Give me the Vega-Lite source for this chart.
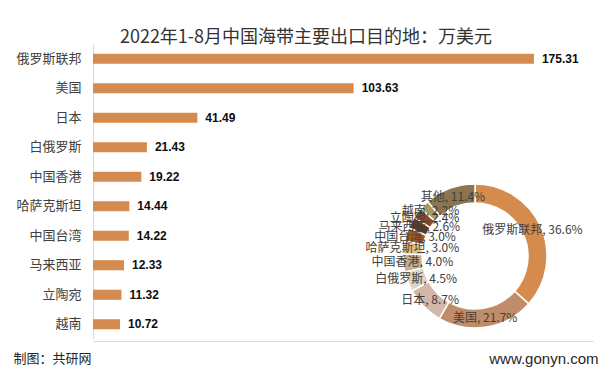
{
  "$schema": "https://vega.github.io/schema/vega-lite/v6.json",
  "width": 500,
  "height": 295,
  "autosize": {"type": "none"},
  "padding": {"left": 93, "top": 44, "right": 20, "bottom": 34},
  "background": "white",
  "config": {"view": {"stroke": null}, "font": "Noto Sans CJK SC"},
  "title": {
    "text": "2022年1-8月中国海带主要出口目的地：万美元",
    "fontSize": 18,
    "fontWeight": "normal",
    "color": "#333333",
    "anchor": "middle",
    "frame": "group",
    "dx": -37,
    "offset": -3,
    "font": "Noto Sans CJK SC"
  },
  "datasets": {
    "bars": [
      {"name": "俄罗斯联邦", "value": 175.31},
      {"name": "美国", "value": 103.63},
      {"name": "日本", "value": 41.49},
      {"name": "白俄罗斯", "value": 21.43},
      {"name": "中国香港", "value": 19.22},
      {"name": "哈萨克斯坦", "value": 14.44},
      {"name": "中国台湾", "value": 14.22},
      {"name": "马来西亚", "value": 12.33},
      {"name": "立陶宛", "value": 11.32},
      {"name": "越南", "value": 10.72}
    ],
    "pie": [
      {"rank": 1, "name": "俄罗斯联邦", "pct": 36.6, "label": "俄罗斯联邦, 36.6%"},
      {"rank": 2, "name": "美国", "pct": 21.7, "label": "美国, 21.7%"},
      {"rank": 3, "name": "日本", "pct": 8.7, "label": "日本, 8.7%"},
      {"rank": 4, "name": "白俄罗斯", "pct": 4.5, "label": "白俄罗斯, 4.5%"},
      {"rank": 5, "name": "中国香港", "pct": 4.0, "label": "中国香港, 4.0%"},
      {"rank": 6, "name": "哈萨克斯坦", "pct": 3.0, "label": "哈萨克斯坦, 3.0%"},
      {"rank": 7, "name": "中国台湾", "pct": 3.0, "label": "中国台湾, 3.0%"},
      {"rank": 8, "name": "马来西亚", "pct": 2.6, "label": "马来西亚, 2.6%"},
      {"rank": 9, "name": "立陶宛", "pct": 2.4, "label": "立陶宛, 2.4%"},
      {"rank": 10, "name": "越南", "pct": 2.2, "label": "越南, 2.2%"},
      {"rank": 11, "name": "其他", "pct": 11.4, "label": "其他, 11.4%"}
    ]
  },
  "layer": [
    {
      "data": {"name": "bars"},
      "mark": {"type": "bar", "color": "#D48B4D"},
      "encoding": {
        "y": {
          "field": "name", "type": "nominal", "sort": null,
          "scale": {"paddingInner": 0.66, "paddingOuter": 0.33},
          "axis": {
            "title": null, "ticks": false, "grid": false,
            "labelPadding": 12, "labelFontSize": 13, "labelColor": "#404040",
            "labelFont": "Noto Sans CJK SC",
            "domainColor": "#D9D9D9", "domainWidth": 1
          }
        },
        "x": {
          "field": "value", "type": "quantitative",
          "scale": {"domain": [0, 198.8], "nice": false},
          "axis": {
            "title": "制图：共研网",
            "titleX": -80, "titleY": 17, "titleAlign": "left", "titleBaseline": "middle",
            "titleFontSize": 13, "titleFontWeight": "normal", "titleColor": "#262626",
            "titleFont": "Noto Sans CJK SC",
            "grid": false, "ticks": false,
            "domainColor": "#D9D9D9", "offset": 2,
            "values": [198.8],
            "labelExpr": "'www.gonyn.com'",
            "labelAlign": "right", "labelOffset": 5, "labelFontSize": 15,
            "labelColor": "#262626", "labelPadding": 17, "labelBaseline": "middle",
            "labelFlush": false, "labelFont": "Liberation Sans", "labelOverlap": false
          }
        }
      }
    },
    {
      "data": {"name": "bars"},
      "mark": {"type": "text", "align": "left", "dx": 8, "fontWeight": "bold", "fontSize": 12, "font": "Liberation Sans", "color": "#0d0d0d"},
      "encoding": {
        "y": {"field": "name", "type": "nominal", "sort": null},
        "x": {"field": "value", "type": "quantitative"},
        "text": {"field": "value", "type": "quantitative", "format": ".2f"}
      }
    },
    {
      "data": {"name": "pie"},
      "mark": {"type": "arc", "x": 382, "y": 212, "radius": 72, "innerRadius": 53, "stroke": "white", "strokeWidth": 1.5},
      "encoding": {
        "theta": {"field": "pct", "type": "quantitative", "stack": true},
        "order": {"field": "rank", "type": "quantitative"},
        "color": {
          "field": "name", "type": "nominal", "legend": null,
          "scale": {
            "domain": ["俄罗斯联邦", "美国", "日本", "白俄罗斯", "中国香港", "哈萨克斯坦", "中国台湾", "马来西亚", "立陶宛", "越南", "其他"],
            "range": ["#D48B4D", "#BF8D6A", "#D5B7AA", "#DDD6C3", "#C8B08E", "#E8C37E", "#9B5A22", "#5E3A1E", "#8B4A2B", "#A99A5E", "#8B7550"]
          }
        }
      }
    },
    {
      "data": {"name": "pie"},
      "mark": {"type": "text", "x": 382, "y": 212, "radius": 63, "fontSize": 12, "color": "#404040", "font": "Noto Sans CJK SC"},
      "encoding": {
        "theta": {"field": "pct", "type": "quantitative", "stack": true},
        "order": {"field": "rank", "type": "quantitative"},
        "text": {"field": "label", "type": "nominal"}
      }
    }
  ]
}
